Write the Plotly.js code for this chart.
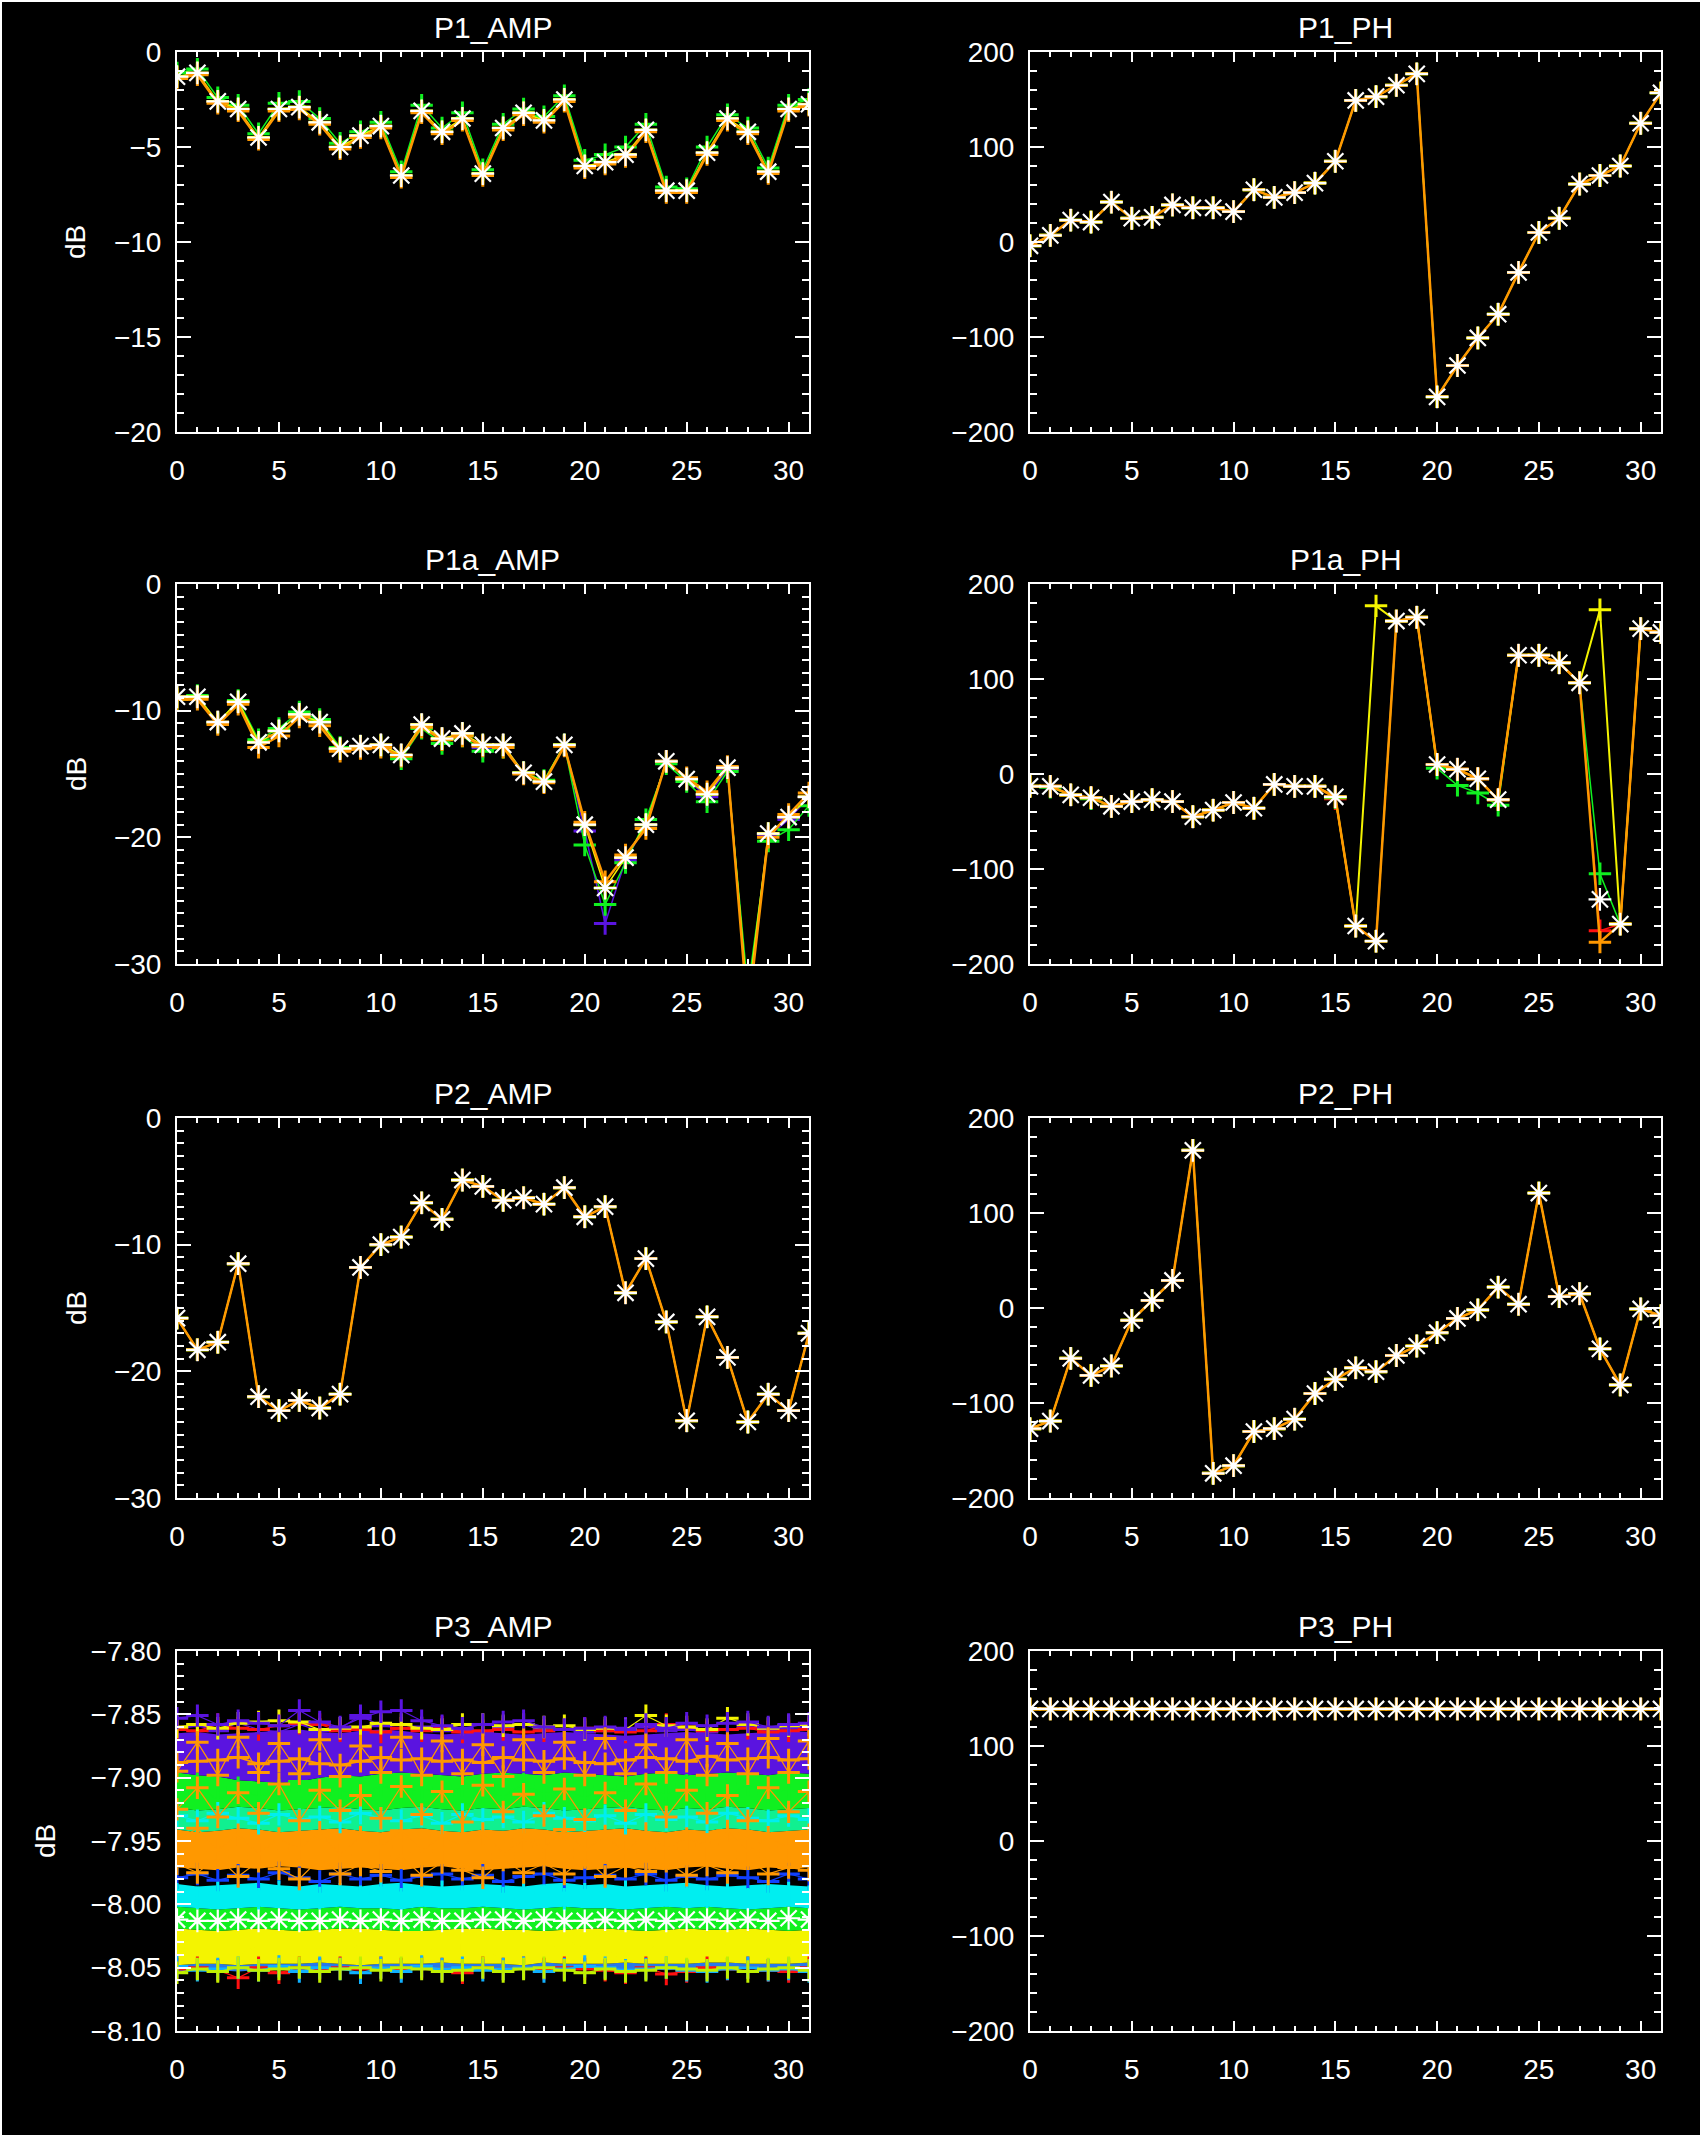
<!DOCTYPE html>
<html><head><meta charset="utf-8">
<script src="https://cdn.plot.ly/plotly-3.0.1.min.js"></script>
<style>html,body{margin:0;padding:0;background:#000;}</style>
</head><body><div id="chart" style="width:1700px;height:2135px;"></div>
<script>
// ---- data ----
const chan = [0,1,2,3,4,5,6,7,8,9,10,11,12,13,14,15,16,17,18,19,20,21,22,23,24,25,26,27,28,29,30,31];
const panelTitles = ["P1_AMP","P1_PH","P1a_AMP","P1a_PH","P2_AMP","P2_PH","P3_AMP","P3_PH"];

// P1_AMP (dB)
const p1AmpRef    = [-1.3,-1.1,-2.6,-3.0,-4.5,-3.0,-2.9,-3.7,-5.0,-4.4,-3.9,-6.5,-3.1,-4.2,-3.5,-6.4,-4.0,-3.2,-3.6,-2.5,-6.0,-5.8,-5.4,-4.1,-7.3,-7.3,-5.3,-3.5,-4.2,-6.3,-3.0,-2.75];
const p1AmpGreen  = [-1.1,-0.9,-2.4,-2.8,-4.3,-2.7,-2.6,-3.5,-4.8,-4.2,-3.7,-6.3,-2.8,-4.0,-3.2,-6.2,-3.8,-3.0,-3.4,-2.3,-5.7,-5.4,-5.0,-3.8,-7.1,-7.2,-5.0,-3.3,-4.0,-6.1,-2.8,-2.5];
const p1AmpOrange = [-1.4,-1.2,-2.7,-3.1,-4.6,-3.1,-3.0,-3.8,-5.1,-4.5,-4.0,-6.6,-3.2,-4.3,-3.6,-6.5,-4.1,-3.3,-3.7,-2.6,-6.1,-5.9,-5.5,-4.2,-7.4,-7.4,-5.4,-3.6,-4.3,-6.4,-3.1,-2.8];

// P1_PH (deg)
const p1PhRef = [-4,7,23,21,42,25,26,39,36,36,32,55,47,52,62,85,149,153,165,177,-163,-130,-101,-76,-32,10,25,61,70,80,125,157];

// P1a_AMP (dB)
const p1aAmpRef    = [-8.9,-8.9,-10.9,-9.3,-12.5,-11.6,-10.3,-10.9,-13.0,-12.8,-12.7,-13.5,-11.1,-12.2,-11.8,-12.7,-12.7,-14.9,-15.6,-12.7,-19.0,-24.0,-21.6,-19.0,-14.0,-15.4,-16.6,-14.5,-33.0,-19.7,-18.4,-16.8];
const p1aAmpGreen  = [-9.1,-8.8,-11.0,-9.2,-12.3,-11.4,-10.1,-10.7,-12.9,-12.9,-12.8,-13.8,-11.4,-12.6,-12.0,-13.2,-12.9,-14.9,-15.5,-12.7,-20.6,-25.3,-22.0,-18.6,-14.2,-15.6,-17.2,-14.8,-32.0,-20.3,-19.4,-17.5];
const p1aAmpPurple = [-8.9,-8.9,-10.9,-9.3,-12.5,-11.6,-10.2,-10.9,-13.0,-12.8,-12.7,-13.5,-11.1,-12.2,-11.8,-12.9,-12.7,-14.9,-15.6,-12.7,-19.5,-26.8,-21.8,-19.0,-14.0,-15.4,-16.8,-14.6,-33.0,-19.9,-18.6,-16.8];
const p1aAmpOrange = [-9.1,-9.1,-11.1,-9.5,-12.9,-12.0,-10.5,-11.2,-13.2,-13.0,-12.9,-13.6,-11.3,-12.3,-12.0,-12.8,-12.9,-15.0,-15.7,-12.8,-18.8,-23.5,-21.4,-19.3,-14.0,-15.3,-16.4,-14.4,-34.0,-20.0,-18.2,-16.5];

// P1a_PH (deg)
const p1aPhRef    = [-13,-13,-22,-25,-34,-29,-27,-29,-45,-38,-30,-36,-11,-13,-13,-24,-160,-176,161,165,10,5,-5,-27,125,125,117,96,-132,-158,153,149];
const p1aPhGreen  = [-13,-14,-22,-26,-34,-29,-27,-29,-45,-38,-30,-36,-11,-13,-13,-25,-160,-176,161,165,6,-12,-20,-33,125,125,117,96,-105,-158,153,149];
const p1aPhRed    = [-13,-13,-22,-25,-34,-29,-27,-29,-45,-38,-30,-36,-11,-13,-13,-26,-160,-176,161,165,10,5,-5,-27,125,125,117,96,-165,-158,153,149];
const p1aPhYellow = [-13,-13,-22,-25,-34,-29,-27,-29,-45,-38,-30,-36,-11,-13,-13,-24,-160,177,161,165,10,5,-5,-27,125,125,117,96,173,-158,153,149];
const p1aPhOrange = [-13,-13,-22,-25,-34,-29,-27,-29,-45,-38,-30,-36,-11,-13,-13,-24,-160,-176,161,165,10,5,-5,-27,125,125,117,96,-177,-158,153,149];

// P2_AMP (dB)
const p2AmpRef = [-15.8,-18.3,-17.7,-11.5,-22.0,-23.1,-22.3,-22.9,-21.8,-11.8,-10.0,-9.4,-6.7,-8.0,-4.9,-5.4,-6.5,-6.3,-6.8,-5.5,-7.8,-7.0,-13.8,-11.1,-16.1,-23.9,-15.7,-18.9,-24.0,-21.8,-23.1,-17.0];

// P2_PH (deg)
const p2PhRef = [-127,-119,-53,-71,-61,-13,8,29,166,-174,-166,-130,-127,-117,-90,-75,-63,-67,-50,-40,-26,-11,-2,22,4,121,12,15,-43,-81,-1,-8];

// P3_PH (deg)
const p3PhRef = [139,139,139,139,139,139,139,139,139,139,139,139,139,139,139,139,139,139,139,139,139,139,139,139,139,139,139,139,139,139,139,139];

// P3_AMP (dB) : band edges of the dense cloud, bottom to top
const p3Edge0 = [-8.053,-8.052,-8.052,-8.053,-8.052,-8.051,-8.052,-8.052,-8.051,-8.052,-8.051,-8.051,-8.052,-8.051,-8.052,-8.052,-8.051,-8.052,-8.051,-8.051,-8.051,-8.052,-8.051,-8.051,-8.052,-8.051,-8.051,-8.050,-8.051,-8.051,-8.052,-8.051];
const p3Edge1 = [-8.048,-8.047,-8.047,-8.048,-8.047,-8.047,-8.047,-8.046,-8.047,-8.048,-8.047,-8.047,-8.047,-8.046,-8.047,-8.047,-8.047,-8.048,-8.046,-8.047,-8.047,-8.047,-8.046,-8.047,-8.047,-8.047,-8.046,-8.046,-8.047,-8.047,-8.047,-8.046];
const p3Edge2 = [-8.019,-8.020,-8.021,-8.020,-8.019,-8.020,-8.021,-8.020,-8.019,-8.019,-8.020,-8.021,-8.021,-8.020,-8.019,-8.019,-8.020,-8.020,-8.021,-8.020,-8.019,-8.019,-8.020,-8.021,-8.020,-8.019,-8.020,-8.020,-8.019,-8.020,-8.021,-8.020];
const p3Edge3 = [-8.002,-8.003,-8.004,-8.003,-8.002,-8.003,-8.004,-8.003,-8.002,-8.003,-8.003,-8.004,-8.002,-8.003,-8.003,-8.002,-8.003,-8.004,-8.003,-8.002,-8.003,-8.003,-8.004,-8.003,-8.002,-8.003,-8.002,-8.003,-8.004,-8.003,-8.002,-8.003];
const p3Edge4 = [-7.984,-7.986,-7.985,-7.984,-7.983,-7.985,-7.986,-7.984,-7.985,-7.986,-7.984,-7.983,-7.985,-7.986,-7.985,-7.984,-7.985,-7.986,-7.984,-7.983,-7.985,-7.984,-7.986,-7.985,-7.984,-7.983,-7.985,-7.986,-7.985,-7.984,-7.985,-7.986];
const p3Edge5 = [-7.971,-7.972,-7.973,-7.971,-7.972,-7.970,-7.971,-7.973,-7.972,-7.971,-7.972,-7.973,-7.971,-7.970,-7.972,-7.973,-7.972,-7.971,-7.970,-7.972,-7.973,-7.972,-7.971,-7.972,-7.973,-7.971,-7.970,-7.972,-7.973,-7.971,-7.972,-7.971];
const p3Edge6 = [-7.941,-7.943,-7.942,-7.940,-7.941,-7.943,-7.942,-7.941,-7.940,-7.942,-7.943,-7.941,-7.940,-7.942,-7.943,-7.941,-7.942,-7.940,-7.941,-7.943,-7.942,-7.941,-7.940,-7.942,-7.943,-7.941,-7.942,-7.940,-7.941,-7.943,-7.942,-7.941];
const p3Edge7 = [-7.924,-7.926,-7.925,-7.923,-7.924,-7.926,-7.925,-7.924,-7.923,-7.925,-7.926,-7.924,-7.923,-7.925,-7.926,-7.924,-7.925,-7.923,-7.924,-7.926,-7.925,-7.924,-7.923,-7.925,-7.926,-7.924,-7.925,-7.923,-7.924,-7.926,-7.925,-7.924];
const p3Edge8 = [-7.896,-7.898,-7.899,-7.902,-7.903,-7.904,-7.903,-7.900,-7.898,-7.899,-7.897,-7.896,-7.897,-7.898,-7.899,-7.897,-7.896,-7.897,-7.898,-7.896,-7.897,-7.898,-7.899,-7.897,-7.896,-7.898,-7.897,-7.896,-7.897,-7.898,-7.896,-7.897];
const p3Edge9 = [-7.865,-7.864,-7.866,-7.865,-7.864,-7.863,-7.862,-7.864,-7.865,-7.863,-7.862,-7.863,-7.865,-7.866,-7.865,-7.864,-7.865,-7.866,-7.865,-7.864,-7.865,-7.866,-7.867,-7.866,-7.865,-7.864,-7.865,-7.866,-7.865,-7.864,-7.863,-7.864];

// P3_AMP (dB) : individual iterations
const p3PurpleTop1 = [-7.853,-7.851,-7.858,-7.855,-7.857,-7.859,-7.847,-7.856,-7.860,-7.853,-7.848,-7.847,-7.855,-7.859,-7.861,-7.858,-7.856,-7.855,-7.860,-7.862,-7.861,-7.860,-7.862,-7.858,-7.861,-7.857,-7.859,-7.857,-7.856,-7.860,-7.858,-7.857];
const p3PurpleTop2 = [-7.862,-7.859,-7.863,-7.857,-7.862,-7.864,-7.858,-7.863,-7.861,-7.851,-7.859,-7.861,-7.860,-7.863,-7.862,-7.864,-7.860,-7.858,-7.863,-7.862,-7.864,-7.863,-7.861,-7.860,-7.863,-7.862,-7.864,-7.862,-7.860,-7.862,-7.861,-7.860];
const p3YellowTop  = [-7.860,-7.858,-7.861,-7.857,-7.856,-7.855,-7.856,-7.862,-7.861,-7.860,-7.857,-7.858,-7.861,-7.862,-7.858,-7.858,-7.859,-7.858,-7.860,-7.859,-7.862,-7.861,-7.862,-7.851,-7.859,-7.860,-7.862,-7.853,-7.858,-7.861,-7.859,-7.858];
const p3RedTop     = [-7.862,-7.863,-7.858,-7.861,-7.862,-7.859,-7.857,-7.858,-7.863,-7.862,-7.864,-7.861,-7.863,-7.860,-7.864,-7.863,-7.862,-7.864,-7.863,-7.862,-7.861,-7.863,-7.864,-7.863,-7.858,-7.860,-7.863,-7.862,-7.861,-7.864,-7.863,-7.862];
const p3OrangeA    = [-7.888,-7.887,-7.886,-7.884,-7.889,-7.887,-7.885,-7.889,-7.890,-7.887,-7.884,-7.886,-7.885,-7.887,-7.886,-7.888,-7.884,-7.886,-7.887,-7.885,-7.888,-7.889,-7.886,-7.884,-7.885,-7.887,-7.883,-7.886,-7.885,-7.884,-7.886,-7.885];
const p3OrangeB    = [-7.895,-7.872,-7.898,-7.868,-7.896,-7.873,-7.897,-7.870,-7.899,-7.875,-7.896,-7.868,-7.898,-7.871,-7.897,-7.874,-7.899,-7.870,-7.896,-7.872,-7.898,-7.869,-7.897,-7.874,-7.896,-7.870,-7.898,-7.873,-7.897,-7.869,-7.896,-7.871];
const p3OrangeE    = [-7.925,-7.908,-7.931,-7.912,-7.928,-7.905,-7.934,-7.910,-7.926,-7.914,-7.932,-7.907,-7.929,-7.911,-7.935,-7.906,-7.927,-7.913,-7.930,-7.909,-7.933,-7.912,-7.926,-7.905,-7.931,-7.910,-7.928,-7.914,-7.934,-7.908,-7.927,-7.911];
const p3GreenMid   = [-7.912,-7.905,-7.918,-7.908,-7.915,-7.910,-7.903,-7.913,-7.909,-7.916,-7.906,-7.912,-7.908,-7.914,-7.907,-7.911,-7.915,-7.905,-7.913,-7.909,-7.916,-7.907,-7.912,-7.908,-7.914,-7.906,-7.911,-7.915,-7.905,-7.912,-7.909,-7.913];
const p3CyanMid    = [-7.930,-7.934,-7.928,-7.932,-7.936,-7.929,-7.933,-7.931,-7.935,-7.928,-7.932,-7.934,-7.930,-7.936,-7.929,-7.933,-7.931,-7.935,-7.928,-7.932,-7.934,-7.930,-7.936,-7.929,-7.933,-7.931,-7.935,-7.928,-7.932,-7.934,-7.930,-7.933];
const p3OrangeC    = [-7.950,-7.940,-7.957,-7.945,-7.960,-7.948,-7.956,-7.943,-7.961,-7.947,-7.955,-7.942,-7.958,-7.946,-7.954,-7.944,-7.960,-7.949,-7.955,-7.941,-7.957,-7.946,-7.959,-7.944,-7.956,-7.948,-7.953,-7.942,-7.958,-7.947,-7.955,-7.945];
const p3OrangeD    = [-7.968,-7.975,-7.963,-7.978,-7.966,-7.972,-7.980,-7.964,-7.976,-7.969,-7.974,-7.962,-7.977,-7.967,-7.973,-7.979,-7.965,-7.975,-7.968,-7.976,-7.963,-7.978,-7.970,-7.974,-7.966,-7.977,-7.969,-7.975,-7.964,-7.976,-7.971,-7.973];
const p3BlueDark   = [-7.979,-7.976,-7.981,-7.977,-7.980,-7.975,-7.979,-7.982,-7.976,-7.980,-7.977,-7.981,-7.978,-7.976,-7.980,-7.977,-7.982,-7.978,-7.976,-7.981,-7.979,-7.977,-7.980,-7.976,-7.981,-7.978,-7.980,-7.977,-7.979,-7.982,-7.976,-7.980];
const p3CyanLow    = [-7.992,-7.995,-7.991,-7.994,-7.996,-7.990,-7.993,-7.995,-7.992,-7.994,-7.991,-7.996,-7.993,-7.990,-7.994,-7.992,-7.995,-7.991,-7.993,-7.996,-7.992,-7.994,-7.990,-7.995,-7.993,-7.991,-7.994,-7.992,-7.996,-7.993,-7.991,-7.994];
const p3YellowLow  = [-8.030,-8.036,-8.028,-8.040,-8.033,-8.038,-8.029,-8.035,-8.041,-8.031,-8.037,-8.027,-8.034,-8.039,-8.030,-8.036,-8.042,-8.032,-8.038,-8.028,-8.035,-8.040,-8.031,-8.037,-8.029,-8.034,-8.039,-8.030,-8.036,-8.041,-8.033,-8.038];
const p3RedLow     = [-8.051,-8.050,-8.052,-8.058,-8.050,-8.054,-8.050,-8.051,-8.050,-8.051,-8.050,-8.051,-8.050,-8.051,-8.054,-8.050,-8.051,-8.050,-8.051,-8.050,-8.051,-8.052,-8.054,-8.050,-8.055,-8.053,-8.050,-8.051,-8.050,-8.052,-8.053,-8.050];
const p3SkyLow     = [-8.049,-8.052,-8.051,-8.050,-8.052,-8.049,-8.053,-8.050,-8.051,-8.054,-8.050,-8.053,-8.049,-8.051,-8.050,-8.052,-8.051,-8.050,-8.053,-8.051,-8.049,-8.050,-8.052,-8.051,-8.050,-8.052,-8.053,-8.051,-8.050,-8.052,-8.051,-8.053];
const p3LimeLow    = [-8.054,-8.051,-8.053,-8.050,-8.052,-8.051,-8.050,-8.053,-8.051,-8.050,-8.052,-8.050,-8.051,-8.053,-8.052,-8.050,-8.053,-8.051,-8.050,-8.052,-8.054,-8.051,-8.053,-8.052,-8.050,-8.051,-8.052,-8.050,-8.053,-8.051,-8.050,-8.052];
const p3WhiteRef   = [-8.012,-8.013,-8.013,-8.012,-8.013,-8.012,-8.013,-8.013,-8.012,-8.013,-8.012,-8.013,-8.012,-8.013,-8.013,-8.012,-8.012,-8.013,-8.012,-8.013,-8.013,-8.012,-8.013,-8.012,-8.013,-8.012,-8.012,-8.013,-8.012,-8.013,-8.011,-8.012];

// ---- colours ----
const C = {purple:'#5a14e0', blue:'#1040ff', sky:'#10b0ff', cyan:'#00eef0', green:'#10f020',
           sea:'#10f090', lime:'#c0f000', yellow:'#f4f400', orange:'#ff9800', red:'#ff1010', white:'#ffffff'};

// ---- helpers ----
function axn(i){ return i===1 ? '' : String(i); }
function plus(y, color, p, lw, ms){
  return {type:'scatter', mode:'lines+markers', x:chan, y:y, xaxis:'x'+axn(p), yaxis:'y'+axn(p),
    line:{color:color, width:lw||1.5},
    marker:{symbol:'cross-thin-open', size:ms||16, color:color, line:{width:3, color:color}},
    hoverinfo:'skip', showlegend:false};
}
function stars(y, p){
  return {type:'scatter', mode:'markers', x:chan, y:y, xaxis:'x'+axn(p), yaxis:'y'+axn(p),
    marker:{symbol:'asterisk-open', size:19, color:C.white, line:{width:2.2, color:C.white}},
    hoverinfo:'skip', showlegend:false};
}
function edge(y, p, fillcolor){
  const t = {type:'scatter', mode:'lines', x:chan, y:y, xaxis:'x'+axn(p), yaxis:'y'+axn(p),
    line:{width:0, color:fillcolor||'#000'}, hoverinfo:'skip', showlegend:false};
  if(fillcolor){ t.fill='tonexty'; t.fillcolor=fillcolor; }
  return t;
}

const traces = [];
// P1_AMP
traces.push(plus(p1AmpGreen, C.green, 1), plus(p1AmpRef, C.yellow, 1), plus(p1AmpOrange, C.orange, 1, 2.5), stars(p1AmpRef, 1));
// P1_PH
traces.push(plus(p1PhRef, C.green, 2), plus(p1PhRef, C.yellow, 2), plus(p1PhRef, C.orange, 2, 2.5), stars(p1PhRef, 2));
// P1a_AMP
traces.push(plus(p1aAmpPurple, C.purple, 3), plus(p1aAmpGreen, C.green, 3), plus(p1aAmpRef, C.yellow, 3), plus(p1aAmpOrange, C.orange, 3, 2.5), stars(p1aAmpRef, 3));
// P1a_PH
traces.push(plus(p1aPhRed, C.red, 4), plus(p1aPhGreen, C.green, 4), plus(p1aPhYellow, C.yellow, 4, 2), plus(p1aPhOrange, C.orange, 4, 2.5), stars(p1aPhRef, 4));
// P2_AMP
traces.push(plus(p2AmpRef, C.green, 5), plus(p2AmpRef, C.yellow, 5), plus(p2AmpRef, C.orange, 5, 2.5), stars(p2AmpRef, 5));
// P2_PH
traces.push(plus(p2PhRef, C.green, 6), plus(p2PhRef, C.yellow, 6), plus(p2PhRef, C.orange, 6, 2.5), stars(p2PhRef, 6));
// P3_AMP bands
traces.push(edge(p3Edge0, 7), edge(p3Edge1, 7, '#2a78e8'), edge(p3Edge2, 7, C.yellow), edge(p3Edge3, 7, C.green),
            edge(p3Edge4, 7, C.cyan), edge(p3Edge5, 7), edge(p3Edge6, 7, C.orange), edge(p3Edge7, 7, C.sea),
            edge(p3Edge8, 7, C.green), edge(p3Edge9, 7, C.purple));
// P3_AMP individual iterations
traces.push(plus(p3GreenMid, C.green, 7, 1.2), plus(p3CyanMid, C.cyan, 7, 1.2), plus(p3BlueDark, C.blue, 7, 1.2),
            plus(p3CyanLow, C.cyan, 7, 1.2), plus(p3OrangeD, C.orange, 7, 1.2), plus(p3OrangeC, C.orange, 7, 1.2),
            plus(p3OrangeE, C.orange, 7, 1.2), plus(p3YellowLow, C.yellow, 7, 1.2), plus(p3RedLow, C.red, 7, 1.2),
            plus(p3SkyLow, C.sky, 7, 1.2), plus(p3LimeLow, C.lime, 7, 1.2), plus(p3PurpleTop2, C.purple, 7, 1.2),
            plus(p3RedTop, C.red, 7, 1.2), plus(p3YellowTop, C.yellow, 7, 1.2), plus(p3PurpleTop1, C.purple, 7, 1.2),
            plus(p3OrangeB, C.orange, 7, 1.2), plus(p3OrangeA, C.orange, 7, 2), stars(p3WhiteRef, 7));
// P3_PH
traces.push(plus(p3PhRef, C.yellow, 8), plus(p3PhRef, C.orange, 8, 2.5), stars(p3PhRef, 8));

// ---- layout ----
const W = 1700, H = 2135;
const colPx = [[177,809],[1030,1661]];
const rowPx = [[52,432],[584,964],[1118,1498],[1651,2031]];
const font = 'Liberation Sans, Arial, sans-serif';
const tickFont = {family:font, size:28, color:'#fff'};
function baseAxis(){
  return {ticks:'inside', tickwidth:2, tickcolor:'#fff', mirror:'allticks', showline:true,
    linecolor:'#fff', linewidth:2, showgrid:false, zeroline:false, tickfont:tickFont, fixedrange:true};
}
const yCfg = {
  amp20:{range:[-20,0], dtick:5, tick0:0, minor:1},
  amp30:{range:[-30,0], dtick:10, tick0:0, minor:1},
  ph:{range:[-200,200], dtick:100, tick0:0, minor:20},
  p3:{range:[-8.10,-7.80], dtick:0.05, tick0:-7.8, minor:0.01, fmt:'.2f'}
};
const panelY = ['amp20','ph','amp30','ph','amp30','ph','p3','ph'];
const layout = {width:W, height:H, margin:{l:0,r:0,t:0,b:0}, paper_bgcolor:'#ffffff', plot_bgcolor:'#000000',
  showlegend:false, font:{family:font, color:'#fff'}, annotations:[],
  shapes:[{type:'rect', xref:'paper', yref:'paper', x0:2/W, x1:1, y0:0, y1:1-2/H, fillcolor:'#000', line:{width:0}, layer:'below'}]};
for(let p=1;p<=8;p++){
  const col = (p-1)%2, row = Math.floor((p-1)/2);
  const xd = [colPx[col][0]/W, colPx[col][1]/W];
  const yd = [1-rowPx[row][1]/H, 1-rowPx[row][0]/H];
  const xa = Object.assign(baseAxis(), {domain:xd, anchor:'y'+axn(p), range:[0,31], tick0:0, dtick:5, ticklen:10,
    ticklabelstandoff:12, minor:{ticks:'inside', dtick:1, tick0:0, ticklen:5, tickwidth:2, tickcolor:'#fff'}});
  const c = yCfg[panelY[p-1]];
  const ya = Object.assign(baseAxis(), {domain:yd, anchor:'x'+axn(p), range:c.range, tick0:c.tick0, dtick:c.dtick, ticklen:14,
    ticklabelstandoff:8, minor:{ticks:'inside', dtick:c.minor, tick0:c.tick0, ticklen:7, tickwidth:2, tickcolor:'#fff'}});
  if(c.fmt) ya.tickformat = c.fmt;
  layout['xaxis'+axn(p)] = xa;
  layout['yaxis'+axn(p)] = ya;
  layout.annotations.push({text:panelTitles[p-1], xref:'paper', yref:'paper', x:(xd[0]+xd[1])/2, y:yd[1],
    xanchor:'center', yanchor:'bottom', yshift:6, showarrow:false, font:{family:font, size:30, color:'#fff'}});
  if(col===0){
    layout.annotations.push({text:'dB', xref:'paper', yref:'paper', x:(row===3?46:76)/W, y:(yd[0]+yd[1])/2,
      xanchor:'center', yanchor:'middle', textangle:-90, showarrow:false, font:{family:font, size:28, color:'#fff'}});
  }
}
Plotly.newPlot('chart', traces, layout, {staticPlot:true, displayModeBar:false});
</script></body></html>
